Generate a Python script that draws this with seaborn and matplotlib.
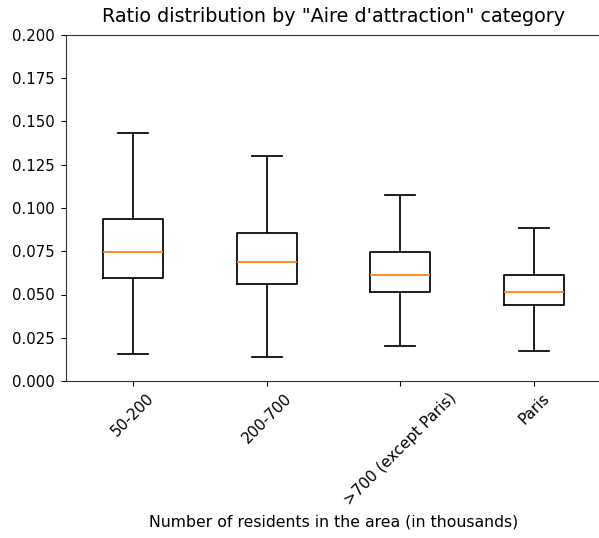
import matplotlib
matplotlib.use("Agg")
import matplotlib.pyplot as plt
import seaborn as sns
import pandas as pd

categories = ["50-200", "200-700", ">700 (except Paris)", "Paris"]
# five-number summaries: min, Q1, median, Q3, max
g_50_200 = [0.0156, 0.0595, 0.0746, 0.0936, 0.1434]
g_200_700 = [0.0139, 0.0561, 0.0688, 0.0855, 0.1300]
g_700 = [0.0202, 0.0514, 0.0613, 0.0746, 0.1075]
g_paris = [0.0173, 0.0439, 0.0514, 0.0613, 0.0884]
ytick_labels = ["0.000", "0.025", "0.050", "0.075", "0.100", "0.125", "0.150", "0.175", "0.200"]

groups = [g_50_200, g_200_700, g_700, g_paris]
rows = []
for cat, vals in zip(categories, groups):
    for v in vals:
        rows.append({"cat": cat, "ratio": v})
df = pd.DataFrame(rows)

plt.rcParams["font.family"] = ["DejaVu Sans"]
fig = plt.figure(figsize=(5.99, 5.38), dpi=100)
ax = fig.add_axes([66 / 599, (538 - 381) / 538, (601 - 66) / 599, (381 - 35) / 538])

sns.boxplot(data=df, x="cat", y="ratio", order=categories, whis=(0, 100),
            fill=False, color="black", width=0.45, linewidth=1.25,
            showfliers=False, medianprops={"color": "#ff7f0e", "linewidth": 1.25}, ax=ax)

ax.set_ylim(0, 0.2)
ax.set_yticks([i * 0.025 for i in range(len(ytick_labels))])
ax.set_yticklabels(ytick_labels, fontsize=10.7)
ax.set_xlim(-0.5, 3.5)
ax.tick_params(axis="x", labelrotation=45, labelsize=11)
ax.tick_params(axis="y", pad=4.5)
for s in ax.spines.values():
    s.set_color("#333333")
ax.set_title('Ratio distribution by "Aire d\'attraction" category', fontsize=13.8, pad=9)
ax.set_xlabel("Number of residents in the area (in thousands)", fontsize=11.3)
ax.set_ylabel("")

fig.savefig("out.png", dpi=100)
